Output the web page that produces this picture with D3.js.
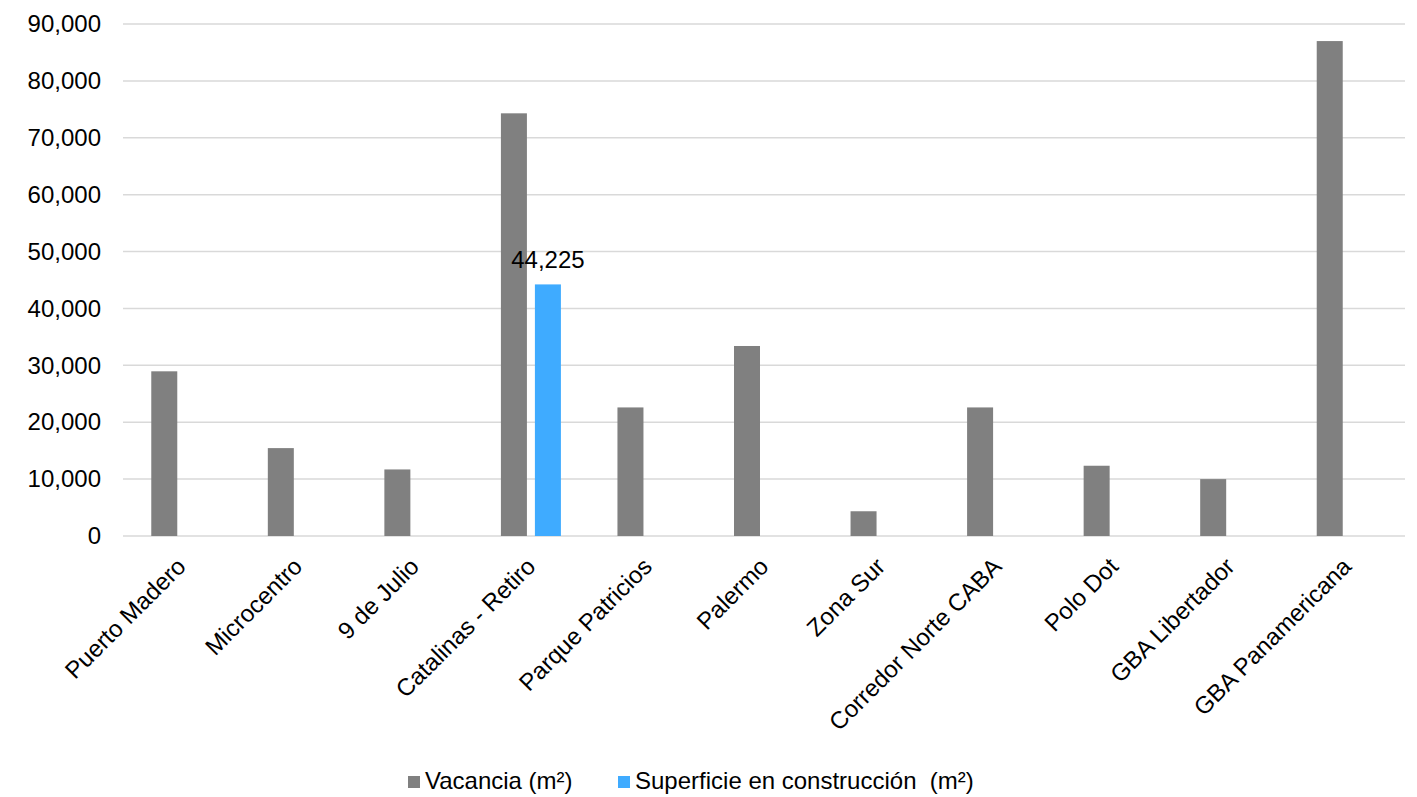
<!DOCTYPE html>
<html>
<head>
<meta charset="utf-8">
<script src="https://cdn.jsdelivr.net/npm/d3@7"></script>
<style>
  html, body { margin: 0; padding: 0; background: #fff; }
  svg { display: block; font-family: "Liberation Sans", Arial, sans-serif; }
</style>
</head>
<body>
<svg id="chart" width="1417" height="797"></svg>
<script>
// Office space by submarket
const categories = [
  "Puerto Madero", "Microcentro", "9 de Julio", "Catalinas - Retiro",
  "Parque Patricios", "Palermo", "Zona Sur", "Corredor Norte CABA",
  "Polo Dot", "GBA Libertador", "GBA Panamericana"
];
const vacancia = [28950, 15450, 11700, 74300, 22600, 33400, 4350, 22600, 12350, 10000, 87000];
const construccion = [null, null, null, 44225, null, null, null, null, null, null, null];
const seriesNames = ["Vacancia (m²)", "Superficie en construcción  (m²)"];
const seriesColors = ["#808080", "#3fabff"];
const yTicks = [0, 10000, 20000, 30000, 40000, 50000, 60000, 70000, 80000, 90000];

const FONT = 24;
const svg = d3.select("#chart");
const margin = { left: 123, right: 12, top: 24, bottom: 261 };
const W = 1417, H = 797;
const plotW = W - margin.left - margin.right;
const plotH = H - margin.top - margin.bottom;

const g = svg.append("g").attr("transform", `translate(${margin.left},${margin.top})`);

const x = d3.scaleBand().domain(categories).range([0, plotW]).paddingInner(0).paddingOuter(0);
const y = d3.scaleLinear().domain([0, 90000]).range([plotH, 0]);
const inner = d3.scaleBand().domain([0, 1]).range([x.bandwidth() / 2 - 30, x.bandwidth() / 2 + 30]).paddingInner(0.235);

// Gridlines
g.append("g")
  .selectAll("line")
  .data(yTicks)
  .join("line")
  .attr("x1", 0).attr("x2", plotW)
  .attr("y1", d => y(d)).attr("y2", d => y(d))
  .attr("stroke", "#d9d9d9").attr("stroke-width", 1.5);

// Y axis labels
const yAxis = d3.axisLeft(y).tickValues(yTicks).tickFormat(d3.format(",")).tickSize(0).tickPadding(22);
g.append("g").call(yAxis)
  .call(s => s.select(".domain").remove())
  .selectAll("text")
  .attr("font-size", FONT).attr("fill", "#000")
  .style("font-family", "'Liberation Sans', Arial, sans-serif");

// Bars
const series = [vacancia, construccion];
series.forEach((vals, si) => {
  g.append("g")
    .selectAll("rect")
    .data(categories.map((c, i) => ({ c, v: vals[i] })).filter(d => d.v != null))
    .join("rect")
    .attr("x", d => x(d.c) + inner(si))
    .attr("width", inner.bandwidth())
    .attr("y", d => y(d.v))
    .attr("height", d => y(0) - y(d.v))
    .attr("fill", seriesColors[si]);
});

// Data label on the construction bar
g.append("g")
  .selectAll("text")
  .data(categories.map((c, i) => ({ c, v: construccion[i] })).filter(d => d.v != null))
  .join("text")
  .attr("x", d => x(d.c) + inner(1) + inner.bandwidth() / 2)
  .attr("y", d => y(d.v) - 16)
  .attr("text-anchor", "middle")
  .attr("font-size", FONT)
  .attr("fill", "#000")
  .text(d => d3.format(",")(d.v));

// Category labels, rotated
g.append("g")
  .selectAll("text")
  .data(categories)
  .join("text")
  .attr("transform", d => `translate(${x(d) + x.bandwidth() / 2 + 6},${plotH + 32}) rotate(-45)`)
  .attr("text-anchor", "end")
  .attr("font-size", FONT)
  .attr("fill", "#000")
  .text(d => d);

// Legend
const legend = svg.append("g").attr("transform", "translate(408,789)");
const legendX = [0, 210];
seriesNames.forEach((name, i) => {
  const lg = legend.append("g").attr("transform", `translate(${legendX[i]},0)`);
  lg.append("rect").attr("x", 0).attr("y", -13).attr("width", 12).attr("height", 12).attr("fill", seriesColors[i]);
  lg.append("text").attr("x", 17).attr("y", 0).attr("font-size", FONT).attr("fill", "#000")
    .attr("xml:space", "preserve").style("white-space", "pre").text(name);
});
</script>
</body>
</html>
